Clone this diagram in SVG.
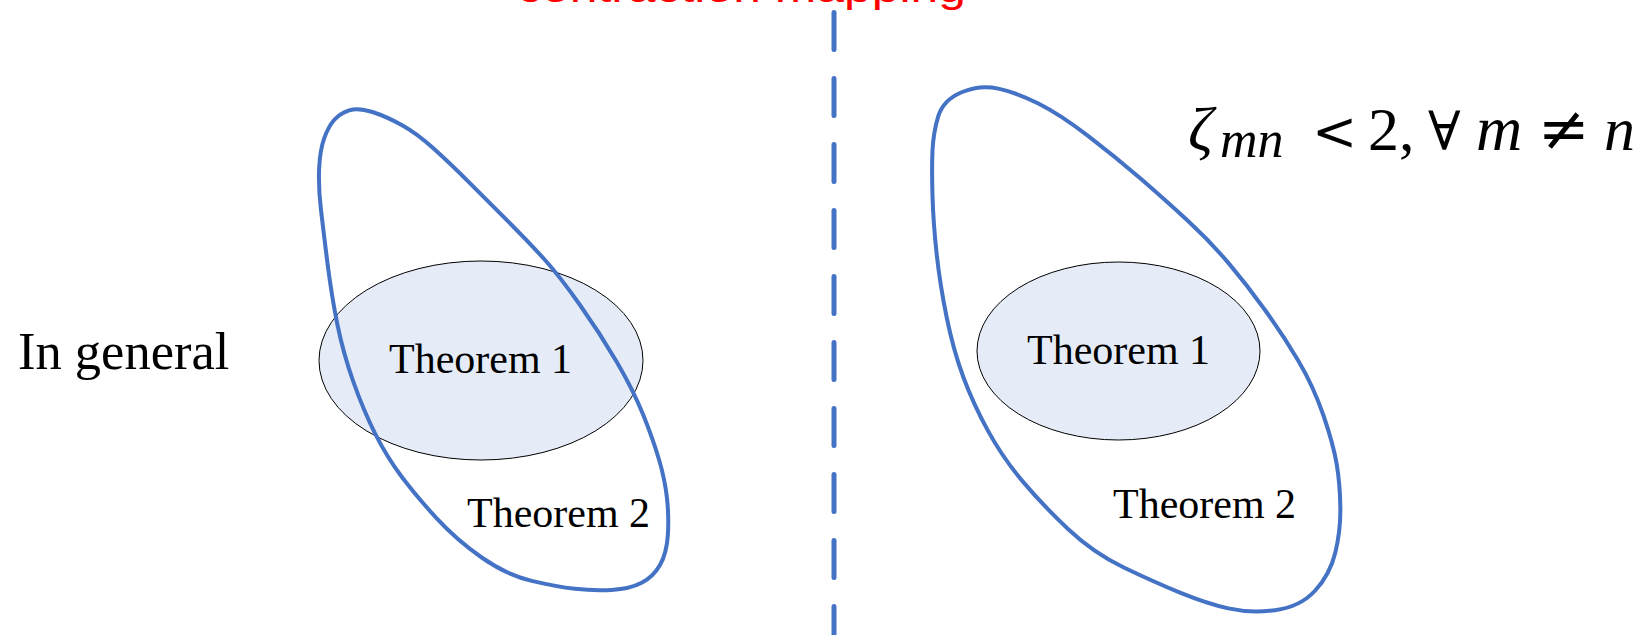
<svg xmlns="http://www.w3.org/2000/svg" width="1637" height="635" viewBox="0 0 1637 635">
<style>
.serif{font-family:"Liberation Serif","Times New Roman",serif;fill:#000}
.sym{font-family:"DejaVu Serif","Liberation Serif",serif}
.lbl{font-size:42px}
.inner{fill:#E6ECF7;stroke:#000;stroke-width:1}
.loop{fill:none;stroke:#4472C4;stroke-width:4;stroke-linejoin:round}
.divider{stroke:#4472C4;stroke-width:5;stroke-linecap:round;stroke-dasharray:37 29;fill:none}
.title{font-family:"Liberation Sans",Arial,sans-serif;font-size:40px;fill:#FF0000}
</style>
<rect width="1637" height="635" fill="#fff"/>
<g id="title">
<text class="title" x="517" y="2" textLength="449" lengthAdjust="spacingAndGlyphs">contraction mapping</text>
</g>
<g id="divider">
<line class="divider" x1="834" y1="12.5" x2="834" y2="660"/>
</g>
<g id="label-general">
<text class="serif" x="18" y="369" font-size="52.5">In general</text>
</g>
<g id="left-theorem1">
<ellipse class="inner" cx="481" cy="360.5" rx="162" ry="99.5"/>
<text class="serif lbl" x="389" y="373">Theorem 1</text>
</g>
<g id="left-theorem2">
<path class="loop" d="M349.15,110.3 Q358.3,107.3 372.5,112 Q386.7,116.7 401.7,125 Q416.7,133.3 433.35,148.3 Q450,163.3 468.35,181.65 Q486.7,200 508.35,221.65 Q530,243.3 545,260 Q560,276.7 580,305 Q600,333.3 616.65,361.65 Q633.3,390 643.3,415 Q653.3,440 659.15,460 Q665,480 667,498.35 Q669,516.7 667.850,535 Q666.7,553.3 660,565 Q653.3,576.7 641.65,582.85 Q630,589 611.65,590 Q593.3,591 575,588.85 Q556.7,586.7 531.7,580.85 Q506.7,575 481.7,557.5 Q456.7,540 436.7,518.35 Q416.7,496.7 401.7,476.7 Q386.7,456.7 375,433.35 Q363.3,410 353.3,381.65 Q343.3,353.3 337.5,325 Q331.7,296.7 327.5,263.35 Q323.3,230 320.8,208.35 Q318.3,186.7 319.15,168.35 Q320,150 324.15,138.35 Q328.3,126.7 334.15,120 Q340,113.3 349.15,110.3 Z"/>
<text class="serif lbl" x="467" y="527">Theorem 2</text>
</g>
<g id="right-theorem2">
<path class="loop" d="M998.35,88.6 Q980,84.6 961.65,92.25 Q943.3,99.9 938.3,116.2 Q933.3,132.5 932.5,150.6 Q931.7,168.7 932.5,195.85 Q933.3,223 936.65,253.8 Q940,284.6 946.65,317.25 Q953.3,349.9 963.3,377.05 Q973.3,404.2 988.3,431.4 Q1003.3,458.6 1023.3,482.15 Q1043.3,505.7 1068.3,529.25 Q1093.3,552.8 1123.3,567.25 Q1153.3,581.7 1180,592.6 Q1206.7,603.5 1228.35,608.4 Q1250,613.3 1275,610.15 Q1300,607 1315,590.75 Q1330,574.5 1335.35,552.45 Q1340.7,530.4 1340.35,507.15 Q1340,483.9 1336.65,463.95 Q1333.3,444 1323.3,415 Q1313.3,386 1298.3,360.7 Q1283.3,335.4 1265,310 Q1246.7,284.6 1228.35,262.9 Q1210,241.2 1188.35,221.25 Q1166.7,201.3 1141.7,179.55 Q1116.7,157.8 1088.35,136.05 Q1060,114.3 1038.35,103.45 Q1016.7,92.6 998.35,88.6 Z"/>
<text class="serif lbl" x="1113" y="518">Theorem 2</text>
</g>
<g id="right-theorem1">
<ellipse class="inner" cx="1118.5" cy="351" rx="141.5" ry="89"/>
<text class="serif lbl" x="1027" y="364">Theorem 1</text>
</g>
<g id="condition">
<text class="serif" y="150" font-size="62"><tspan x="1188" font-style="italic">ζ</tspan><tspan x="1220" y="157" font-style="italic" font-size="52">mn</tspan><tspan class="sym" x="1312" y="150" font-size="54">&lt;</tspan><tspan x="1368">2,</tspan><tspan class="sym" x="1428" font-size="54">∀</tspan><tspan x="1476" font-style="italic" font-size="64">m</tspan><tspan class="sym" x="1538" font-size="62">≠</tspan><tspan x="1604" font-style="italic">n</tspan></text>
</g>
</svg>
